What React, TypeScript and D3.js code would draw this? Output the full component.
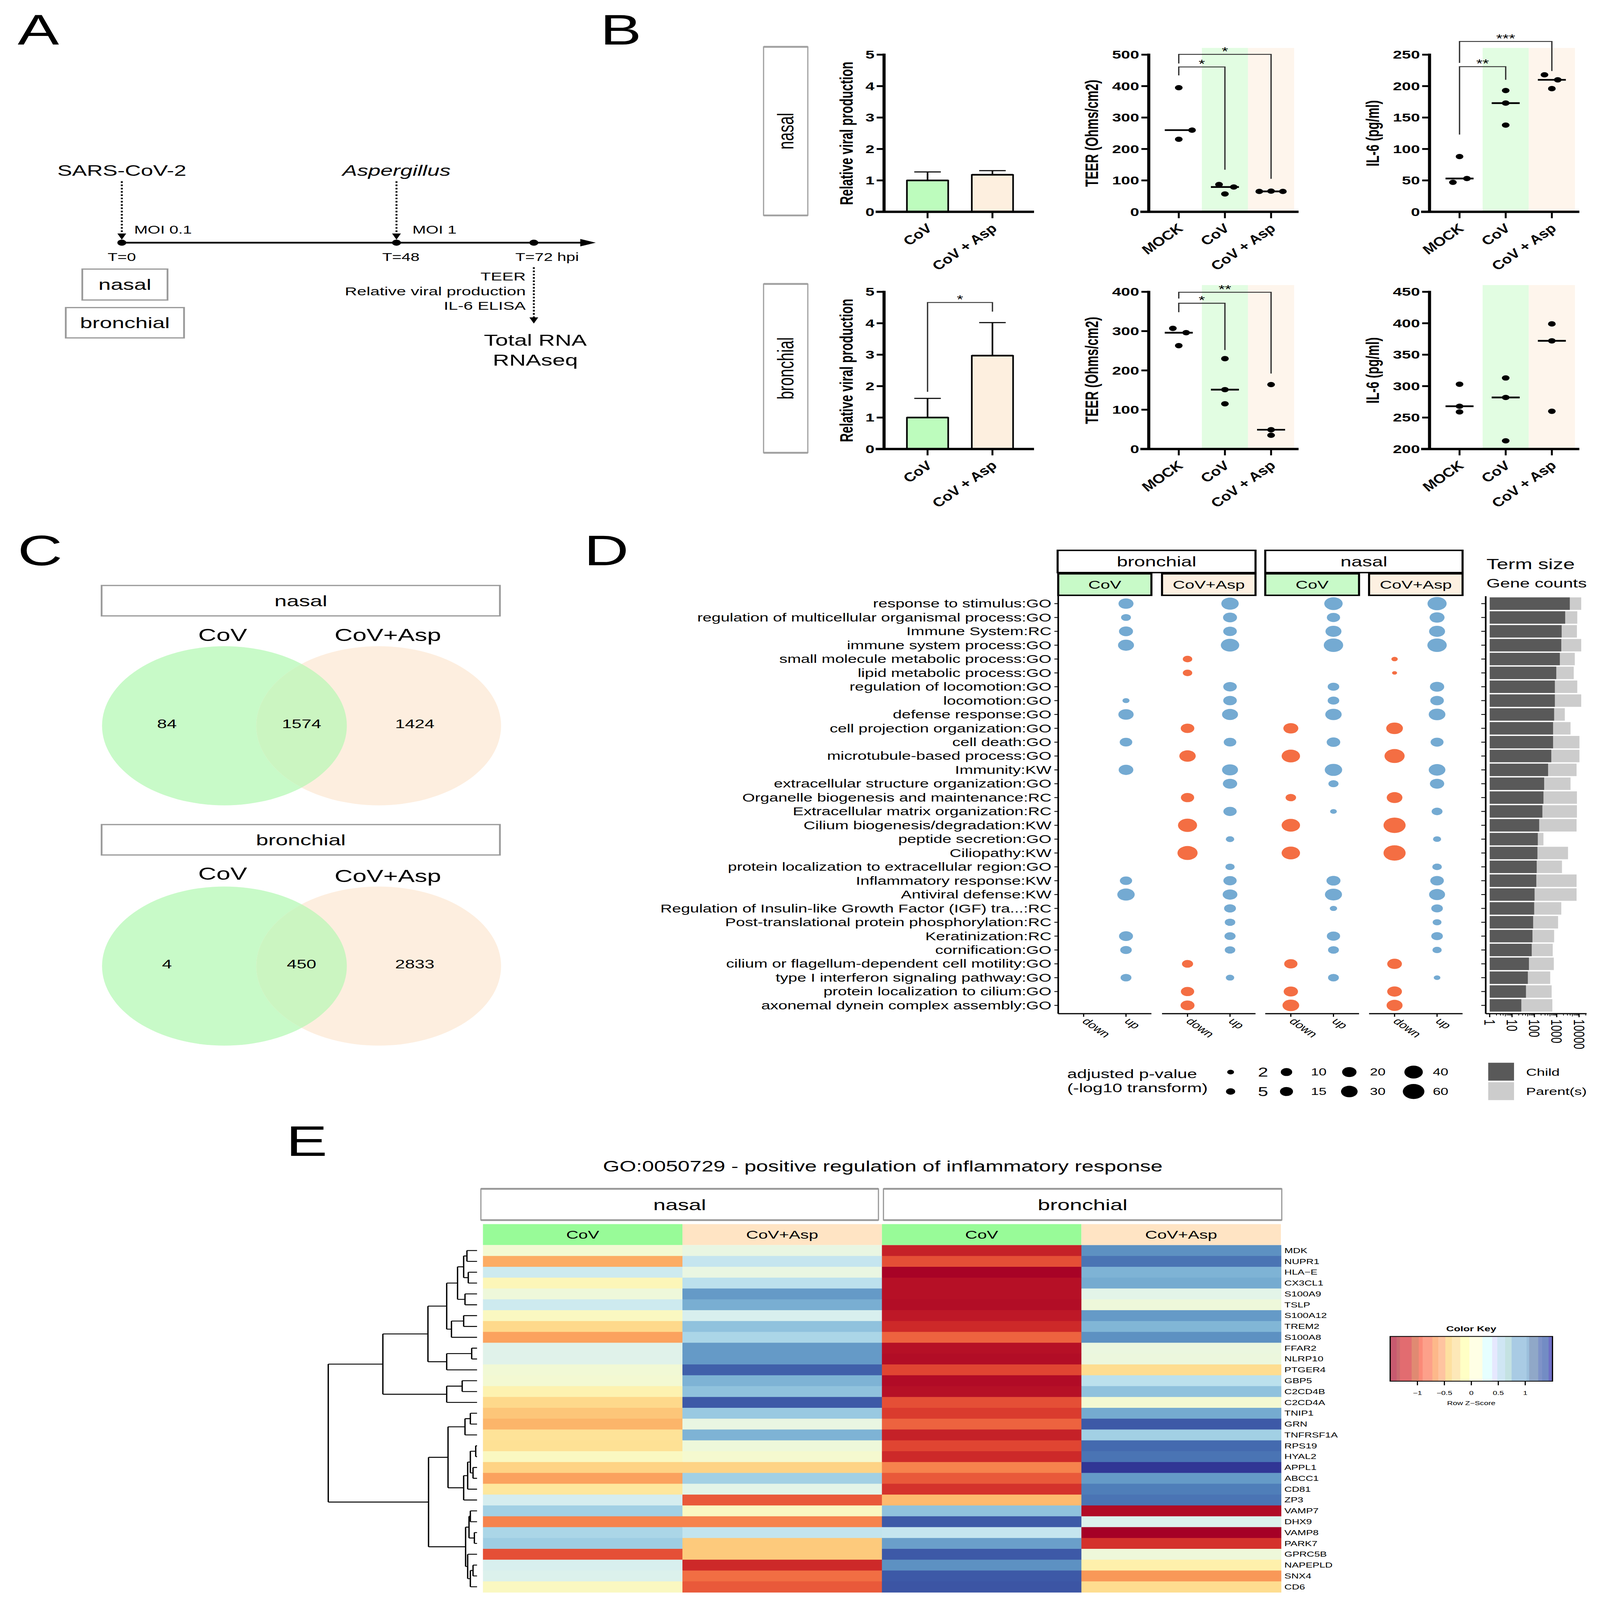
import React from "react";
import * as d3 from "d3";

const FONT = "'Liberation Sans', Arial, Helvetica, sans-serif";
const VW = 1085;
const VH = 1562.6;
const _ = null;

// ===================== PANEL A DATA =====================
const timelineHours = [0, 48, 72];
const timelineLabels = ["T=0", "T=48", "T=72 hpi"];
const readouts = ["TEER", "Relative viral production", "IL-6 ELISA"];

// ===================== PANEL B DATA =====================
const barGroups = ["CoV", "CoV + Asp"];
const dotGroups = ["MOCK", "CoV", "CoV + Asp"];
const viralTicks = [0, 1, 2, 3, 4, 5];
const nasalViralMean = [1.0, 1.18];
const nasalViralUpper = [1.27, 1.31];
const bronchialViralMean = [1.0, 2.97];
const bronchialViralUpper = [1.61, 4.02];

const nasalTeerTicks = [0, 100, 200, 300, 400, 500];
const nasalTeer = [[395, 260, 231], [87, 79, 57], [65, 66, 65]];
const nasalTeerMedian = [260, 79, 65];
const nasalTeerJitter = [[0, 9, 0], [-4, 6, 0], [-8, 0, 8]];

const nasalIl6Ticks = [0, 50, 100, 150, 200, 250];
const nasalIl6 = [[47, 53, 88], [193, 173, 138], [218, 210, 196]];
const nasalIl6Median = [53, 173, 210];
const nasalIl6Jitter = [[-4.5, 5, 0], [0, 0, 0], [-5, 4, 0]];

const bronchialTeerTicks = [0, 100, 200, 300, 400];
const bronchialTeer = [[307, 296, 263], [230, 151, 115], [164, 49, 35]];
const bronchialTeerMedian = [296, 151, 49];
const bronchialTeerJitter = [[-4, 5, 0], [0, 0, 0], [0, 0, 0]];

const bronchialIl6Ticks = [200, 250, 300, 350, 400, 450];
const bronchialIl6 = [[303, 268, 259], [313, 282, 213], [399, 372, 260]];
const bronchialIl6Median = [268, 282, 372];
const bronchialIl6Jitter = [[0, 0, 0], [0, 0, 0], [0, 0, 0]];

// brackets: [group a, group b, bracket value, left leg end, right leg end, label]
const nasalTeerSig = [[0, 1, 461, 434, 134, "*"], [0, 2, 501, 472, 105, "*"]];
const nasalIl6Sig = [[0, 1, 231, 123, 210, "**"], [0, 2, 271, 237, 224, "***"]];
const bronchialViralSig = [[0, 1, 4.66, 1.82, 4.37, "*"]];
const bronchialTeerSig = [[0, 1, 371, 348, 252, "*"], [0, 2, 399, 383, 192, "**"]];

// ===================== PANEL C DATA =====================
const vennSets = ["CoV", "CoV+Asp"];
const nasalVenn = [84, 1574, 1424];
const bronchialVenn = [4, 450, 2833];

// ===================== PANEL D DATA =====================
const terms = [
  "response to stimulus:GO",
  "regulation of multicellular organismal process:GO",
  "Immune System:RC",
  "immune system process:GO",
  "small molecule metabolic process:GO",
  "lipid metabolic process:GO",
  "regulation of locomotion:GO",
  "locomotion:GO",
  "defense response:GO",
  "cell projection organization:GO",
  "cell death:GO",
  "microtubule-based process:GO",
  "Immunity:KW",
  "extracellular structure organization:GO",
  "Organelle biogenesis and maintenance:RC",
  "Extracellular matrix organization:RC",
  "Cilium biogenesis/degradation:KW",
  "peptide secretion:GO",
  "Ciliopathy:KW",
  "protein localization to extracellular region:GO",
  "Inflammatory response:KW",
  "Antiviral defense:KW",
  "Regulation of Insulin-like Growth Factor (IGF) tra...:RC",
  "Post-translational protein phosphorylation:RC",
  "Keratinization:RC",
  "cornification:GO",
  "cilium or flagellum-dependent cell motility:GO",
  "type I interferon signaling pathway:GO",
  "protein localization to cilium:GO",
  "axonemal dynein complex assembly:GO",
];
// -log10 adjusted p-values (null = not significant)
const bronchialCoVDown = [_, _, _, _, _, _, _, _, _, _, _, _, _, _, _, _, _, _, _, _, _, _, _, _, _, _, _, _, _, _];
const bronchialCoVUp = [22.6, 6.3, 18.6, 27.1, _, _, _, 2.2, 23.9, _, 13.5, _, 21.4, _, _, _, _, _, _, _, 12.5, 34.2, _, _, 18.6, 10.5, _, 8.6, _, _];
const bronchialAspDown = [_, _, _, _, 5.5, 5.5, _, _, _, 17, _, 29.1, _, _, 15.9, _, 43.9, _, 50.2, _, _, _, _, _, _, _, 9.3, _, 15.9, 18.6];
const bronchialAspUp = [34.2, 18.6, 17, 39.7, _, _, 17, 17, 27.1, _, 13.5, _, 27.1, 19.7, _, 15.9, _, 3.8, _, 5.0, 15.9, 21.4, 11.3, 7.8, 9.3, 7.8, _, 3.8, _, _];
const nasalCoVDown = [_, _, _, _, _, _, _, _, _, 22.6, _, 39.7, _, _, 7.8, _, 39.7, _, 39.7, _, _, _, _, _, _, _, 15.9, _, 19.7, 30.5];
const nasalCoVUp = [39.7, 15.9, 27.1, 45.7, _, _, 10.5, 10.5, 29.1, _, 17, _, 34.2, 6.9, _, 1.9, _, _, _, _, 18.6, 32.4, 2.5, _, 15.9, 8.6, _, 8.6, _, _];
const nasalAspDown = [_, _, _, _, 1.7, 1.3, _, _, _, 30.5, _, 50.2, _, _, 25.8, _, 64, _, 64, _, _, _, _, _, _, _, 21.4, _, 21.4, 27.1];
const nasalAspUp = [43.9, 22.6, 27.1, 45.7, _, _, 19.7, 17, 30.5, _, 14.7, _, 30.5, 19.7, _, 8.6, _, 3.3, _, 5.5, 17, 27.1, 10.5, 4.4, 10.5, 5.0, _, 1.9, _, _];
// term sizes (gene counts)
const termChild = [3850, 2390, 1660, 1600, 1380, 955, 825, 825, 766, 687, 687, 571, 411, 274, 255, 228, 164, 142, 137, 127, 122, 102, 98, 88, 82, 76, 57, 51, 42, 26];
const termParent = [12500, 8320, 8020, 12500, 6440, 5770, 8320, 12500, 2300, 4150, 10400, 10400, 7730, 4150, 8020, 8020, 7730, 255, 3210, 1720, 7730, 7730, 1600, 1150, 766, 662, 740, 512, 593, 638];
const termTicks = [1, 10, 100, 1000, 10000];
const sizeLegendTop = [2, 10, 20, 40];
const sizeLegendBottom = [5, 15, 30, 60];

// ===================== PANEL E DATA =====================
const heatColumns = ["nasal CoV", "nasal CoV+Asp", "bronchial CoV", "bronchial CoV+Asp"];
const genes = ["MDK", "NUPR1", "HLA−E", "CX3CL1", "S100A9", "TSLP", "S100A12", "TREM2", "S100A8", "FFAR2", "NLRP10", "PTGER4", "GBP5", "C2CD4B", "C2CD4A", "TNIP1", "GRN", "TNFRSF1A", "RPS19", "HYAL2", "APPL1", "ABCC1", "CD81", "ZP3", "VAMP7", "DHX9", "VAMP8", "PARK7", "GPRC5B", "NAPEPLD", "SNX4", "CD6"];
const zNasalCoV = [0.1, -0.6, 0.4, -0.05, 0.15, 0.4, 0.0, -0.33, -0.65, 0.27, 0.27, 0.12, 0.1, -0.1, -0.33, -0.45, -0.55, -0.25, -0.27, 0.0, -0.37, -0.65, -0.22, 0.35, 0.65, -0.8, 0.6, 0.67, -1.05, 0.33, 0.3, 0.0];
const zNasalAsp = [0.2, 0.45, 0.2, 0.5, 1.0, 0.88, 0.33, 0.75, 0.6, 1.0, 1.0, 1.3, 0.85, 0.75, 1.33, 0.7, 0.2, 0.85, 0.15, 0.08, -0.37, 0.65, 0.25, -1.0, 0.0, -0.8, 0.47, -0.43, -0.43, -1.25, -0.9, -1.0];
const zBronchialCoV = [-1.3, -1.05, -1.48, -1.4, -1.4, -1.42, -1.35, -1.25, -0.95, -1.4, -1.42, -1.1, -1.43, -1.4, -1.05, -1.15, -0.95, -1.3, -1.1, -1.25, -0.8, -1.0, -1.2, -0.52, 0.75, 1.33, 0.45, 0.97, 1.33, 1.05, 1.33, 1.35];
const zBronchialAsp = [1.05, 1.2, 0.85, 0.9, 0.25, 0.15, 1.0, 0.83, 1.05, 0.18, 0.17, -0.3, 0.5, 0.75, 0.1, 0.9, 1.33, 0.65, 1.25, 1.2, 1.5, 1.0, 1.15, 1.2, -1.43, 0.3, -1.5, -1.2, 0.15, -0.13, -0.7, -0.3];
// row dendrogram: merge heights (0 = leaves, 1 = root)
const rowTree = {
  h: 1.0,
  c: [
    {
      h: 0.633,
      c: [
        {
          h: 0.33,
          c: [
            {
              h: 0.204,
              c: [
                { h: 0.131, c: [{ h: 0.09, c: [{ h: 0.068, c: ["MDK", "NUPR1"] }, { h: 0.059, c: ["HLA−E", "CX3CL1"] }] }, { h: 0.081, c: ["S100A9", "TSLP"] }] },
                { h: 0.172, c: [{ h: 0.09, c: ["S100A12", "TREM2"] }, "S100A8"] },
              ],
            },
            { h: 0.204, c: [{ h: 0.036, c: ["FFAR2", "NLRP10"] }, "PTGER4"] },
          ],
        },
        { h: 0.204, c: [{ h: 0.1, c: ["GBP5", "C2CD4B"] }, "C2CD4A"] },
      ],
    },
    {
      h: 0.326,
      c: [
        {
          h: 0.195,
          c: [
            { h: 0.081, c: [{ h: 0.045, c: ["TNIP1", "GRN"] }, "TNFRSF1A"] },
            { h: 0.09, c: [{ h: 0.063, c: [{ h: 0.045, c: [{ h: 0.009, c: ["RPS19", "HYAL2"] }, { h: 0.027, c: ["APPL1", "ABCC1"] }] }, "CD81"] }, "ZP3"] },
          ],
        },
        {
          h: 0.077,
          c: [
            { h: 0.054, c: [{ h: 0.045, c: ["VAMP7", "DHX9"] }, { h: 0.018, c: ["VAMP8", "PARK7"] }] },
            { h: 0.063, c: ["GPRC5B", { h: 0.045, c: [{ h: 0.027, c: ["NAPEPLD", "SNX4"] }, "CD6"] }] },
          ],
        },
      ],
    },
  ],
};
const keyTicks = [-1, -0.5, 0, 0.5, 1];
const keyBreaks = [-1.506, -1.386, -1.325, -1.108, -0.976, -0.904, -0.723, -0.614, -0.482, -0.361, -0.205, -0.036, 0.205, 0.386, 0.482, 0.627, 0.747, 1.024, 1.072, 1.241, 1.313, 1.434, 1.506];
const keyColors = ["#c75a6f", "#ca6a70", "#e26c70", "#e08a72", "#fb8a78", "#fda08a", "#fdb88a", "#fec4a0", "#fde0a0", "#fde8b8", "#ffffc5", "#ffffe5", "#e6ffff", "#e6e8fe", "#cfe6f4", "#c4e2e2", "#a9cbe4", "#9cc0dc", "#90a8c8", "#7f93c8", "#738cc4", "#6e6ec6"];

// ===================== COLOURS =====================
const C = {
  barGreen: "#bdfcbd",
  barOrange: "#fdefdf",
  bandGreen: "#e2fde2",
  bandOrange: "#fef5ec",
  stripGreen: "#c8fac8",
  stripOrange: "#fdf0e1",
  dotBlue: "#74aad2",
  dotOrange: "#f46e43",
  vennGreen: "#c8fac8",
  vennOrange: "#fdeedf",
  vennOverlap: "#cbf5c1",
  headGreen: "#98fb98",
  headOrange: "#ffe4c4",
  boxGray: "#9a9a9a",
};

// ===================== PANEL A =====================
function ArrowDown({ x, y1, y2 }: any) {
  return (
    <g>
      <line x1={x} x2={x} y1={y1} y2={y2 - 5} stroke="#000" strokeWidth={1.3} strokeDasharray="1.6,1.6" />
      <polygon points={`${x},${y2} ${x - 3},${y2 - 6} ${x + 3},${y2 - 6}`} fill="#000" />
    </g>
  );
}

function PanelA() {
  const t = d3.scaleLinear().domain([0, 72]).range([82.6, 362]);
  const yl = 237;
  const lblDx = [0, 3, 9];
  return (
    <g>
      <text x={12} y={43.5} fontSize={42}>A</text>
      <text x={t(0)} y={171.6} fontSize={15} textAnchor="middle">SARS-CoV-2</text>
      <text x={t(48)} y={171.6} fontSize={15} fontStyle="italic" textAnchor="middle">Aspergillus</text>
      <ArrowDown x={t(0)} y1={177} y2={234} />
      <ArrowDown x={t(48)} y1={177} y2={234} />
      <text x={t(0) + 8.4} y={228} fontSize={11}>MOI 0.1</text>
      <text x={t(48) + 10.8} y={228} fontSize={11}>MOI 1</text>
      <line x1={t(0)} x2={398} y1={yl} y2={yl} stroke="#000" strokeWidth={1.8} />
      <polygon points={`404,${yl} 393.5,${yl - 3.6} 393.5,${yl + 3.6}`} fill="#000" />
      {timelineHours.map((h, i) => (
        <g key={h}>
          <circle cx={t(h)} cy={yl} r={3} fill="#000" />
          <text x={t(h) + lblDx[i]} y={255} fontSize={11} textAnchor="middle">{timelineLabels[i]}</text>
        </g>
      ))}
      <rect x={55.8} y={262.8} width={57.8} height={30.2} fill="#fff" stroke={C.boxGray} strokeWidth={1.2} />
      <text x={84.7} y={278} dy="0.35em" fontSize={15} textAnchor="middle">nasal</text>
      <rect x={44.6} y={300.4} width={80.2} height={29.6} fill="#fff" stroke={C.boxGray} strokeWidth={1.2} />
      <text x={84.7} y={315.2} dy="0.35em" fontSize={15} textAnchor="middle">bronchial</text>
      {readouts.map((r, i) => (
        <text key={r} x={356.5} y={273.8 + i * 14.45} fontSize={11.5} textAnchor="end">{r}</text>
      ))}
      <ArrowDown x={t(72)} y1={261} y2={316} />
      <text x={t(72) + 1} y={337.8} fontSize={15.5} textAnchor="middle">Total RNA</text>
      <text x={t(72) + 1} y={357} fontSize={15.5} textAnchor="middle">RNAseq</text>
    </g>
  );
}

// ===================== PANEL B =====================
function YAxisB({ x0, y, ticks, yTop, yBot }: any) {
  return (
    <g>
      <line x1={x0} x2={x0} y1={yTop - 1} y2={yBot} stroke="#000" strokeWidth={2.1} />
      {ticks.map((t: number) => (
        <g key={t}>
          <line x1={x0 - 5} x2={x0} y1={y(t)} y2={y(t)} stroke="#000" strokeWidth={1.8} />
          <text x={x0 - 6.5} y={y(t)} dy="0.36em" textAnchor="end" fontSize={11} fontWeight="bold">{t}</text>
        </g>
      ))}
    </g>
  );
}

function XAxisB({ x0, xEnd, yBot, centers, labels }: any) {
  return (
    <g>
      <line x1={x0 - 5.7} x2={xEnd} y1={yBot} y2={yBot} stroke="#000" strokeWidth={2.3} />
      {centers.map((cx: number, i: number) => (
        <g key={i}>
          <line x1={cx} x2={cx} y1={yBot} y2={yBot + 6.2} stroke="#000" strokeWidth={1.3} />
          <text transform={`translate(${cx + 4},${yBot + 17}) rotate(-45)`} textAnchor="end" fontSize={11.5} fontWeight="bold" fontStyle="italic">{labels[i]}</text>
        </g>
      ))}
    </g>
  );
}

function YLabel({ x, y, text }: any) {
  return (
    <text transform={`translate(${x},${y}) rotate(-90)`} dy="0.35em" textAnchor="middle" fontSize={12} fontWeight="bold">{text}</text>
  );
}

function SigBrackets({ sig, xc, y }: any) {
  return (
    <g>
      {sig.map((s: any, i: number) => {
        const xa = xc[s[0]], xb = xc[s[1]];
        const yb = y(s[2]);
        return (
          <g key={i}>
            <path d={`M${xa},${y(s[3])}V${yb}H${xb}V${y(s[4])}`} fill="none" stroke="#333" strokeWidth={0.9} />
            <text x={(xa + xb) / 2} y={yb + 0.6} textAnchor="middle" fontSize={11}>{s[5]}</text>
          </g>
        );
      })}
    </g>
  );
}

function BarPlot({ x0, yTop, yBot, means, uppers, sig }: any) {
  const y = d3.scaleLinear().domain([0, 5]).range([yBot, yTop]);
  const x = d3.scaleBand().domain(barGroups).range([x0 + 7.5, x0 + 95.5]);
  const bw = 28;
  const centers = barGroups.map((g) => (x(g) as number) + x.bandwidth() / 2);
  const fills = [C.barGreen, C.barOrange];
  return (
    <g>
      {means.map((m: number, i: number) => {
        const cx = centers[i];
        return (
          <g key={i}>
            <line x1={cx} x2={cx} y1={y(m)} y2={y(uppers[i])} stroke="#000" strokeWidth={1.1} />
            <line x1={cx - 9} x2={cx + 9} y1={y(uppers[i])} y2={y(uppers[i])} stroke="#000" strokeWidth={1.1} />
            <rect x={cx - bw / 2} y={y(m)} width={bw} height={yBot - y(m)} fill={fills[i]} stroke="#000" strokeWidth={1.1} />
            <line x1={cx - bw / 2} x2={cx + bw / 2} y1={y(m)} y2={y(m)} stroke="#000" strokeWidth={1.6} />
          </g>
        );
      })}
      {sig && <SigBrackets sig={sig} xc={centers} y={y} />}
      <YAxisB x0={x0} y={y} ticks={viralTicks} yTop={yTop} yBot={yBot} />
      <XAxisB x0={x0} xEnd={x0 + 101.7} yBot={yBot} centers={centers} labels={barGroups} />
      <YLabel x={x0 - 25.5} y={(yTop + yBot) / 2} text="Relative viral production" />
    </g>
  );
}

function DotPlot({ x0, yTop, yBot, domain, ticks, values, medians, jitter, sig, label }: any) {
  const y = d3.scaleLinear().domain(domain).range([yBot, yTop]);
  const x = d3.scaleBand().domain(dotGroups).range([x0 + 4.7, x0 + 98.6]);
  const centers = dotGroups.map((g) => (x(g) as number) + x.bandwidth() / 2);
  const bandTop = yTop - 6.6;
  return (
    <g>
      <rect x={x("CoV")} y={bandTop} width={x.bandwidth()} height={yBot - bandTop} fill={C.bandGreen} />
      <rect x={x("CoV + Asp")} y={bandTop} width={x.bandwidth()} height={yBot - bandTop} fill={C.bandOrange} />
      {sig && <SigBrackets sig={sig} xc={centers} y={y} />}
      {values.map((vals: number[], gi: number) => (
        <g key={gi}>
          {vals.map((v: number, k: number) => (
            <circle key={k} cx={centers[gi] + jitter[gi][k]} cy={y(v)} r={2.6} fill="#000" />
          ))}
          <line x1={centers[gi] - 9.5} x2={centers[gi] + 9.5} y1={y(medians[gi])} y2={y(medians[gi])} stroke="#000" strokeWidth={1.7} />
        </g>
      ))}
      <YAxisB x0={x0} y={y} ticks={ticks} yTop={yTop} yBot={yBot} />
      <XAxisB x0={x0} xEnd={x0 + 101.6} yBot={yBot} centers={centers} labels={dotGroups} />
      <YLabel x={x0 - 38.6} y={(yTop + yBot) / 2} text={label} />
    </g>
  );
}

function SideBox({ y0, y1, text }: any) {
  const x0 = 517.8, x1 = 547.8;
  return (
    <g>
      <rect x={x0} y={y0} width={x1 - x0} height={y1 - y0} fill="#fff" stroke="#a0a0a0" strokeWidth={0.8} />
      <line x1={x0} x2={x1} y1={y0} y2={y0} stroke="#a0a0a0" strokeWidth={1.8} />
      <line x1={x0} x2={x1} y1={y1} y2={y1} stroke="#a0a0a0" strokeWidth={1.8} />
      <text transform={`translate(${(x0 + x1) / 2},${(y0 + y1) / 2}) rotate(-90)`} dy="0.35em" textAnchor="middle" fontSize={15}>{text}</text>
    </g>
  );
}

function PanelB() {
  const top = { yTop: 53.4, yBot: 206.9 };
  const bot = { yTop: 285, yBot: 438.5 };
  return (
    <g>
      <text x={407} y={43.5} fontSize={42}>B</text>
      <SideBox y0={45.7} y1={210.4} text="nasal" />
      <SideBox y0={277.3} y1={442.2} text="bronchial" />
      <BarPlot x0={599.5} {...top} means={nasalViralMean} uppers={nasalViralUpper} />
      <DotPlot x0={779} {...top} domain={[0, 500]} ticks={nasalTeerTicks} values={nasalTeer} medians={nasalTeerMedian} jitter={nasalTeerJitter} sig={nasalTeerSig} label="TEER (Ohms/cm2)" />
      <DotPlot x0={969.4} {...top} domain={[0, 250]} ticks={nasalIl6Ticks} values={nasalIl6} medians={nasalIl6Median} jitter={nasalIl6Jitter} sig={nasalIl6Sig} label="IL-6 (pg/ml)" />
      <BarPlot x0={599.5} {...bot} means={bronchialViralMean} uppers={bronchialViralUpper} sig={bronchialViralSig} />
      <DotPlot x0={779} {...bot} domain={[0, 400]} ticks={bronchialTeerTicks} values={bronchialTeer} medians={bronchialTeerMedian} jitter={bronchialTeerJitter} sig={bronchialTeerSig} label="TEER (Ohms/cm2)" />
      <DotPlot x0={969.4} {...bot} domain={[200, 450]} ticks={bronchialIl6Ticks} values={bronchialIl6} medians={bronchialIl6Median} jitter={bronchialIl6Jitter} label="IL-6 (pg/ml)" />
    </g>
  );
}

// ===================== PANEL C =====================
function Venn({ id, boxY, labelY, cy, values, title }: any) {
  const cx1 = 152.2, cx2 = 256.8, rx = 83, ry = 77.7;
  const lx = [cx1 - rx * 0.47, (cx2 - rx + cx1 + rx) / 2, cx2 + rx * 0.295];
  return (
    <g>
      <rect x={68.9} y={boxY} width={270.1} height={29.7} fill="#fff" stroke={C.boxGray} strokeWidth={1.2} />
      <text x={204} y={boxY + 14.85} dy="0.35em" textAnchor="middle" fontSize={15}>{title}</text>
      <text x={151} y={labelY[0]} textAnchor="middle" fontSize={17}>{vennSets[0]}</text>
      <text x={263} y={labelY[1]} textAnchor="middle" fontSize={17}>{vennSets[1]}</text>
      <defs>
        <clipPath id={id}>
          <ellipse cx={cx1} cy={cy} rx={rx} ry={ry} />
        </clipPath>
      </defs>
      <ellipse cx={cx1} cy={cy} rx={rx} ry={ry} fill={C.vennGreen} />
      <ellipse cx={cx2} cy={cy} rx={rx} ry={ry} fill={C.vennOrange} />
      <ellipse cx={cx2} cy={cy} rx={rx} ry={ry} fill={C.vennOverlap} clipPath={`url(#${id})`} />
      {values.map((v: number, i: number) => (
        <text key={i} x={lx[i]} y={cy - 2} dy="0.35em" textAnchor="middle" fontSize={12}>{v}</text>
      ))}
    </g>
  );
}

function PanelC() {
  return (
    <g>
      <text x={12} y={552} fontSize={42}>C</text>
      <Venn id="vn1" boxY={571.8} labelY={[626, 626]} cy={708.8} values={nasalVenn} title="nasal" />
      <Venn id="vn2" boxY={805.3} labelY={[859, 861.6]} cy={943.5} values={bronchialVenn} title="bronchial" />
    </g>
  );
}

// ===================== PANEL D =====================
function PanelD() {
  const yTop = 581.4, yBot = 990;
  const y = d3.scalePoint().domain(terms).range([yTop, yBot]).padding(0.6);
  const step = y.step();
  const r = d3.scaleSqrt().domain([0, 63.7]).range([1.7, 7.55]);
  const rad = (v: number) => r(Math.max(0, v - 1.3));
  const facets = [
    { x0: 717.6, x1: 780.8, down: bronchialCoVDown, up: bronchialCoVUp, label: "CoV", fill: C.stripGreen },
    { x0: 788, x1: 851.4, down: bronchialAspDown, up: bronchialAspUp, label: "CoV+Asp", fill: C.stripOrange },
    { x0: 858, x1: 921.6, down: nasalCoVDown, up: nasalCoVUp, label: "CoV", fill: C.stripGreen },
    { x0: 928.4, x1: 991.8, down: nasalAspDown, up: nasalAspUp, label: "CoV+Asp", fill: C.stripOrange },
  ];
  const tops = [
    { x0: 717.2, x1: 851.4, label: "bronchial" },
    { x0: 858, x1: 991.8, label: "nasal" },
  ];
  const bx = d3.scaleLog().domain([1, 10000]).range([1010.2, 1070.8]);
  const minor: number[] = [];
  for (let d = 0; d <= 4; d++) for (let k = 2; k <= 9; k++) { const v = k * Math.pow(10, d); if (v <= 20000) minor.push(v); }
  const legX = [834.5, 872.4, 915, 958.6];
  const legLX = [853, 889, 929, 971.6];
  return (
    <g>
      <text x={396} y={552} fontSize={42}>D</text>
      {tops.map((t) => (
        <g key={t.label}>
          <rect x={t.x0} y={537.5} width={t.x1 - t.x0} height={21.7} fill="#fff" stroke="#000" strokeWidth={1.4} />
          <text x={(t.x0 + t.x1) / 2} y={548.4} dy="0.35em" textAnchor="middle" fontSize={13.3}>{t.label}</text>
        </g>
      ))}
      {facets.map((f, fi) => {
        const cx = d3.scalePoint().domain(["down", "up"]).range([f.x0, f.x1]).padding(0.6);
        return (
          <g key={fi}>
            <rect x={f.x0} y={560.4} width={f.x1 - f.x0} height={21} fill={f.fill} stroke="#000" strokeWidth={1.4} />
            <text x={(f.x0 + f.x1) / 2} y={571} dy="0.35em" textAnchor="middle" fontSize={11.5}>{f.label}</text>
            {terms.map((t, i) => (
              <g key={i}>
                {f.down[i] != null && <circle cx={cx("down")} cy={y(t)} r={rad(f.down[i] as number)} fill={C.dotOrange} />}
                {f.up[i] != null && <circle cx={cx("up")} cy={y(t)} r={rad(f.up[i] as number)} fill={C.dotBlue} />}
              </g>
            ))}
            <line x1={f.x0} x2={f.x1} y1={yBot} y2={yBot} stroke="#000" strokeWidth={1.1} />
            {["down", "up"].map((k) => (
              <g key={k}>
                <line x1={cx(k)} x2={cx(k)} y1={yBot} y2={yBot + 3} stroke="#000" strokeWidth={0.8} />
                <text transform={`translate(${(cx(k) as number) - 1.5},${yBot + 8}) rotate(45)`} fontSize={9.3}>{k}</text>
              </g>
            ))}
          </g>
        );
      })}
      <line x1={717.6} x2={717.6} y1={yTop} y2={yBot} stroke="#000" strokeWidth={1.1} />
      {terms.map((t) => (
        <g key={t}>
          <line x1={715} x2={717.6} y1={y(t)} y2={y(t)} stroke="#000" strokeWidth={0.8} />
          <text x={713} y={y(t)} dy="0.35em" textAnchor="end" fontSize={11}>{t}</text>
        </g>
      ))}
      <text x={1008} y={555.8} fontSize={14}>Term size</text>
      <text x={1008} y={573.6} fontSize={12}>Gene counts</text>
      {terms.map((t, i) => (
        <g key={t}>
          <rect x={bx(1)} y={(y(t) as number) - step * 0.45} width={bx(termParent[i]) - bx(1)} height={step * 0.9} fill="#cccccc" />
          <rect x={bx(1)} y={(y(t) as number) - step * 0.45} width={bx(termChild[i]) - bx(1)} height={step * 0.9} fill="#595959" />
          <line x1={1004.5} x2={1007.5} y1={y(t)} y2={y(t)} stroke="#000" strokeWidth={0.8} />
        </g>
      ))}
      <line x1={1007.5} x2={1007.5} y1={582.3} y2={yBot} stroke="#000" strokeWidth={1.1} />
      <line x1={1007.5} x2={1075.9} y1={yBot} y2={yBot} stroke="#000" strokeWidth={1.1} />
      {minor.map((v) => (
        <line key={v} x1={bx(v)} x2={bx(v)} y1={yBot} y2={yBot + (String(v)[0] === "5" ? 2.6 : 1.8)} stroke="#000" strokeWidth={0.5} />
      ))}
      {termTicks.map((v) => (
        <g key={v}>
          <line x1={bx(v)} x2={bx(v)} y1={yBot} y2={yBot + 3.4} stroke="#000" strokeWidth={0.8} />
          <text transform={`translate(${bx(v)},${yBot + 5.5}) rotate(90)`} dy="0.35em" fontSize={10.5}>{v}</text>
        </g>
      ))}
      <text x={723.7} y={1052.8} fontSize={12}>adjusted p-value</text>
      <text x={723.7} y={1066.8} fontSize={12}>(-log10 transform)</text>
      {sizeLegendTop.map((v, i) => (
        <g key={v}>
          <circle cx={legX[i]} cy={1047} r={rad(v)} fill="#000" />
          <text x={legLX[i]} y={1047} dy="0.36em" fontSize={i === 0 ? 12.5 : 9.5}>{v}</text>
        </g>
      ))}
      {sizeLegendBottom.map((v, i) => (
        <g key={v}>
          <circle cx={legX[i]} cy={1066} r={rad(v)} fill="#000" />
          <text x={legLX[i]} y={1066} dy="0.36em" fontSize={i === 0 ? 12.5 : 9.5}>{v}</text>
        </g>
      ))}
      <rect x={1009.2} y={1037.9} width={17.5} height={17.5} fill="#595959" />
      <rect x={1009.2} y={1056.9} width={17.5} height={17.5} fill="#cccccc" />
      <text x={1034.9} y={1047} dy="0.35em" fontSize={10}>Child</text>
      <text x={1034.9} y={1066} dy="0.35em" fontSize={10}>Parent(s)</text>
    </g>
  );
}

// ===================== PANEL E =====================
function PanelE() {
  const x = d3.scaleBand().domain(heatColumns).range([327.5, 868.6]);
  const y = d3.scaleBand().domain(genes).range([1216, 1555]);
  const zCols = [zNasalCoV, zNasalAsp, zBronchialCoV, zBronchialAsp];
  const color = (z: number) => d3.interpolateRdYlBu((z + 1.5) / 3);
  const dx = d3.scaleLinear().domain([0, 1]).range([323.5, 222.6]);
  const segs: number[][] = [];
  const layout = (n: any): { p: number; h: number } => {
    if (typeof n === "string") return { p: (y(n) as number) + y.bandwidth() / 2, h: 0 };
    const a = layout(n.c[0]);
    const b = layout(n.c[1]);
    const xh = dx(n.h);
    segs.push([dx(a.h), a.p, xh, a.p]);
    segs.push([dx(b.h), b.p, xh, b.p]);
    segs.push([xh, a.p, xh, b.p]);
    return { p: (a.p + b.p) / 2, h: n.h };
  };
  layout(rowTree);
  const kx = d3.scaleLinear().domain([-1, 1]).range([961.2, 1034.3]);
  const headFills = [C.headGreen, C.headOrange, C.headGreen, C.headOrange];
  const headLabels = ["CoV", "CoV+Asp", "CoV", "CoV+Asp"];
  const strips = [
    { x0: 326.1, x1: 595.7, label: "nasal" },
    { x0: 599.1, x1: 869.2, label: "bronchial" },
  ];
  return (
    <g>
      <text x={194} y={1129} fontSize={42}>E</text>
      <text x={598.6} y={1144} textAnchor="middle" fontSize={14.5}>GO:0050729 - positive regulation of inflammatory response</text>
      {strips.map((s) => (
        <g key={s.label}>
          <rect x={s.x0} y={1161} width={s.x1 - s.x0} height={30.6} fill="#fff" stroke="#999" strokeWidth={0.8} />
          <line x1={s.x0} x2={s.x1} y1={1161} y2={1161} stroke="#999" strokeWidth={1.8} />
          <line x1={s.x0} x2={s.x1} y1={1191.6} y2={1191.6} stroke="#999" strokeWidth={1.8} />
          <text x={(s.x0 + s.x1) / 2} y={1176.5} dy="0.35em" textAnchor="middle" fontSize={15}>{s.label}</text>
        </g>
      ))}
      {heatColumns.map((c, i) => (
        <g key={c}>
          <rect x={x(c)} y={1195.5} width={x.bandwidth()} height={20.5} fill={headFills[i]} />
          <text x={(x(c) as number) + x.bandwidth() / 2} y={1205.8} dy="0.35em" textAnchor="middle" fontSize={11.5}>{headLabels[i]}</text>
        </g>
      ))}
      {genes.map((g, gi) => (
        <g key={g}>
          {heatColumns.map((c, ci) => (
            <rect key={c} x={x(c)} y={y(g)} width={x.bandwidth() + 0.3} height={y.bandwidth() + 0.3} fill={color(zCols[ci][gi])} />
          ))}
          <text x={871} y={(y(g) as number) + y.bandwidth() / 2} dy="0.35em" fontSize={7}>{g}</text>
        </g>
      ))}
      <path d={segs.map((s) => `M${s[0]},${s[1]}L${s[2]},${s[3]}`).join("")} fill="none" stroke="#000" strokeWidth={0.9} />
      <text x={997.7} y={1300} textAnchor="middle" fontSize={7.2} fontWeight="bold">Color Key</text>
      {keyColors.map((c, i) => (
        <rect key={i} x={kx(keyBreaks[i])} y={1305.2} width={kx(keyBreaks[i + 1]) - kx(keyBreaks[i]) + 0.2} height={43.7} fill={c} />
      ))}
      <rect x={kx(-1.506)} y={1305.2} width={kx(1.506) - kx(-1.506)} height={43.7} fill="none" stroke="#000" strokeWidth={0.8} />
      {keyTicks.map((t) => (
        <g key={t}>
          <line x1={kx(t)} x2={kx(t)} y1={1348.9} y2={1352.9} stroke="#000" strokeWidth={0.8} />
          <text x={kx(t)} y={1362.5} textAnchor="middle" fontSize={5.4}>{t < 0 ? "\u2212" + Math.abs(t) : String(t)}</text>
        </g>
      ))}
      <text x={997.7} y={1372.4} textAnchor="middle" fontSize={5.4}>Row Z{"\u2212"}Score</text>
    </g>
  );
}

export default function App() {
  return (
    <svg
      xmlns="http://www.w3.org/2000/svg"
      viewBox={`0 0 ${VW} ${VH}`}
      preserveAspectRatio="none"
      style={{ position: "fixed", left: 0, top: 0, width: "100vw", height: "100vh", display: "block", background: "#fff" }}
      fontFamily={FONT}
    >
      <rect width={VW} height={VH} fill="#fff" />
      <PanelA />
      <PanelB />
      <PanelC />
      <PanelD />
      <PanelE />
    </svg>
  );
}
